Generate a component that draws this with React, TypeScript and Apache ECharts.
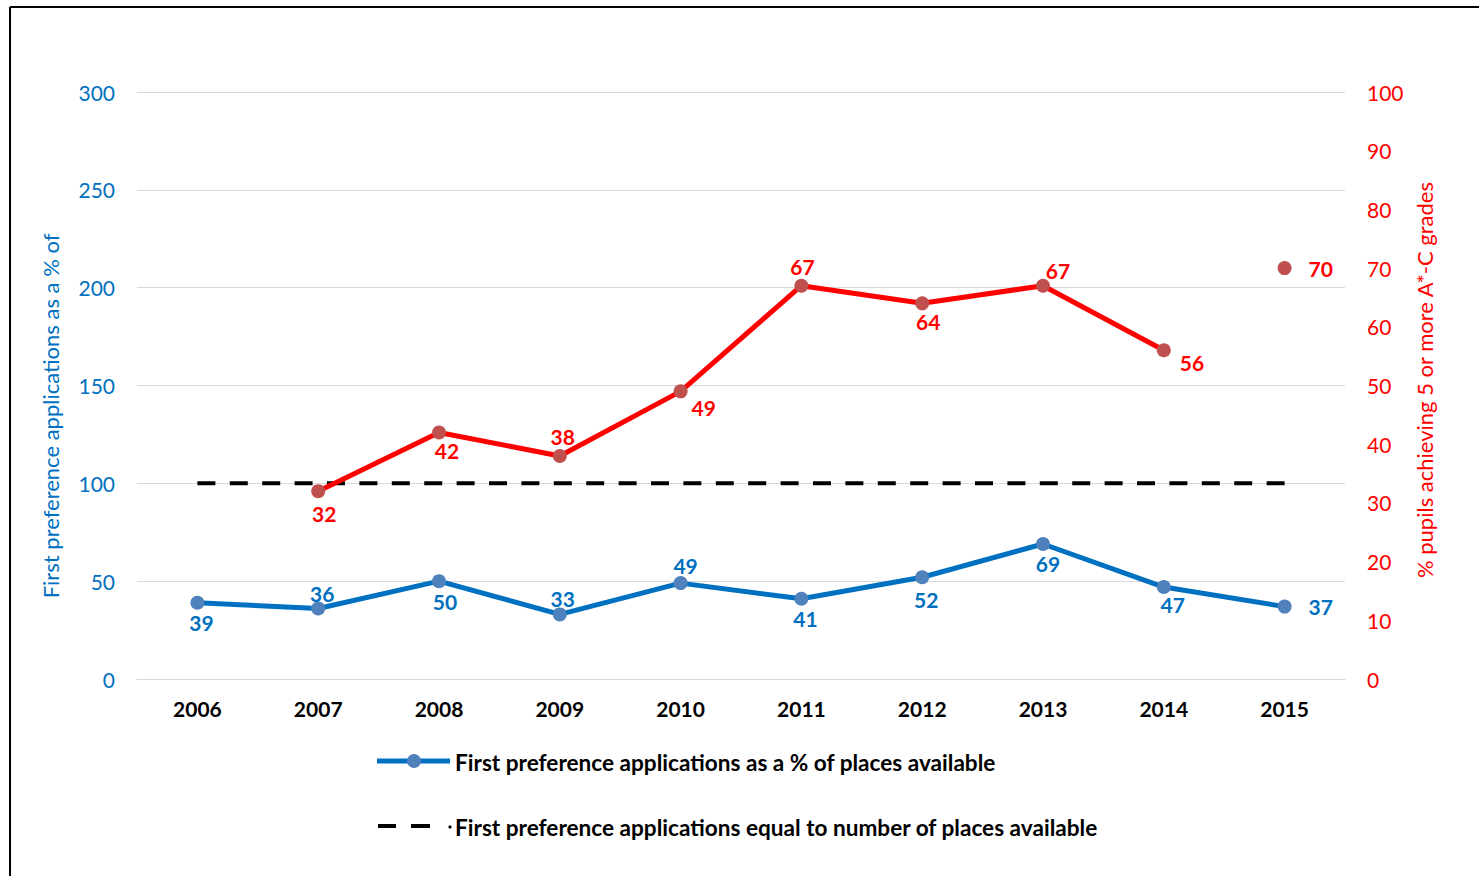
import React, { useEffect, useRef } from "react";
import * as echarts from "echarts";

const years = ["2006", "2007", "2008", "2009", "2010", "2011", "2012", "2013", "2014", "2015"];
const firstPrefPct = [39, 36, 50, 33, 49, 41, 52, 69, 47, 37];
const gcsePct = [null, 32, 42, 38, 49, 67, 64, 67, 56, null];
const gcsePct2015 = [null, null, null, null, null, null, null, null, null, 70];
const parityLine = [100, 100, 100, 100, 100, 100, 100, 100, 100, 100];

const leftTicks = { min: 0, max: 300, interval: 50 };
const rightTicks = { min: 0, max: 100, interval: 10 };

// label placement: [position, dx, dy]
const blueLabelPos: [string, number, number][] = [
  ["bottom", 4, -1], ["top", 4, 5], ["bottom", 6, 0], ["top", 3, 5], ["top", 5, 3],
  ["bottom", 4, -1], ["bottom", 4, 2], ["bottom", 5, -1], ["bottom", 9, -3], ["right", 14, 0],
];
const redLabelPos: [string, number, number][] = [
  ["bottom", 0, 0], ["bottom", 6, 2], ["bottom", 8, -2], ["top", 3, 1], ["right", 1, 16],
  ["top", 1, 1], ["bottom", 6, -2], ["top", 15, 5], ["right", 6, 12], ["right", 14, 0],
];

const FONT = "Lato, 'Open Sans', sans-serif";
const BLUE = "#0070C0";
const RED = "#FF0000";

const NAME_BLUE = "First preference applications as a % of places available";
const NAME_DASH = "First preference applications equal to number of places available";

export default function App() {
  const ref = useRef<HTMLDivElement>(null);
  useEffect(() => {
    if (!ref.current) return;
    const chart = echarts.init(ref.current, null, { renderer: "svg" });
    const mk = (vals: (number | null)[], pos: [string, number, number][], color: string) =>
      vals.map((v, i) =>
        v === null
          ? null
          : {
              value: v,
              label: {
                show: true,
                position: pos[i][0],
                offset: [pos[i][1], pos[i][2]],
                distance: 3,
                color,
                fontWeight: "bold",
                fontSize: 21,
                fontFamily: FONT,
              },
            }
      );
    chart.setOption({
      animation: false,
      textStyle: { fontFamily: FONT },
      grid: { left: 137, right: 134, top: 92, bottom: 197, containLabel: false },
      xAxis: {
        type: "category",
        data: years,
        boundaryGap: true,
        axisLine: { lineStyle: { color: "#D9D9D9", width: 1 } },
        axisTick: { show: false },
        axisLabel: { color: "#000", fontWeight: "bold", fontSize: 21, fontFamily: FONT, margin: 19 },
      },
      yAxis: [
        {
          type: "value",
          ...leftTicks,
          axisLine: { show: false },
          axisTick: { show: false },
          splitLine: { lineStyle: { color: "#D9D9D9", width: 1 } },
          axisLabel: { color: BLUE, fontSize: 21, fontFamily: FONT, margin: 22 },
        },
        {
          type: "value",
          ...rightTicks,
          position: "right",
          axisLine: { show: false },
          axisTick: { show: false },
          splitLine: { show: false },
          axisLabel: { color: RED, fontSize: 21, fontFamily: FONT, margin: 22 },
        },
      ],
      series: [
        {
          name: NAME_DASH,
          type: "line",
          data: parityLine,
          yAxisIndex: 0,
          symbol: "none",
          lineStyle: { color: "#000", width: 4, type: [18, 14.4] },
          itemStyle: { color: "#000" },
          z: 2,
        },
        {
          name: "GCSE",
          type: "line",
          data: mk(gcsePct, redLabelPos, RED),
          yAxisIndex: 1,
          symbol: "circle",
          symbolSize: 14,
          showSymbol: true,
          lineStyle: { color: RED, width: 5 },
          itemStyle: { color: "#C0504D" },
          z: 3,
        },
        {
          name: "GCSE 2015",
          type: "line",
          data: mk(gcsePct2015, redLabelPos, RED),
          yAxisIndex: 1,
          symbol: "circle",
          symbolSize: 14,
          lineStyle: { color: RED, width: 5 },
          itemStyle: { color: "#C0504D" },
          z: 3,
        },
        {
          name: NAME_BLUE,
          type: "line",
          data: mk(firstPrefPct, blueLabelPos, BLUE),
          yAxisIndex: 0,
          symbol: "circle",
          symbolSize: 14,
          lineStyle: { color: BLUE, width: 5 },
          itemStyle: { color: "#4F81BD" },
          z: 4,
        },
      ],
      graphic: [
        { type: "line", shape: { x1: 10, y1: 7, x2: 1479, y2: 7 }, style: { stroke: "#000", lineWidth: 2 } },
        { type: "line", shape: { x1: 10, y1: 7, x2: 10, y2: 876 }, style: { stroke: "#000", lineWidth: 2 } },
        {
          type: "text",
          x: 50,
          y: 416,
          rotation: Math.PI / 2,
          style: {
            text: "First preference applications as a % of",
            fill: BLUE,
            font: `22px ${FONT}`,
            align: "center",
            verticalAlign: "middle",
          },
        },
        {
          type: "text",
          x: 1424,
          y: 380,
          rotation: Math.PI / 2,
          style: {
            text: "% pupils achieving 5 or more A*-C grades",
            fill: RED,
            font: `22px ${FONT}`,
            align: "center",
            verticalAlign: "middle",
          },
        },
        // legend
        { type: "line", shape: { x1: 377, y1: 761, x2: 450, y2: 761 }, style: { stroke: BLUE, lineWidth: 5 } },
        { type: "circle", shape: { cx: 414, cy: 761, r: 7 }, style: { fill: "#4F81BD" } },
        {
          type: "text",
          x: 455,
          y: 762,
          style: { text: NAME_BLUE, fill: "#000", font: `bold 22.6px ${FONT}`, align: "left", verticalAlign: "middle" },
        },
        { type: "line", shape: { x1: 378, y1: 826, x2: 396, y2: 826 }, style: { stroke: "#000", lineWidth: 4 } },
        { type: "line", shape: { x1: 411, y1: 826, x2: 430, y2: 826 }, style: { stroke: "#000", lineWidth: 4 } },
        { type: "circle", shape: { cx: 450, cy: 827, r: 1.6 }, style: { fill: "#000" } },
        {
          type: "text",
          x: 455,
          y: 827,
          style: { text: NAME_DASH, fill: "#000", font: `bold 22.6px ${FONT}`, align: "left", verticalAlign: "middle" },
        },
      ],
    });
    return () => chart.dispose();
  }, []);
  return (
    <div
      ref={ref}
      style={{ position: "absolute", left: 0, top: 0, width: 1479, height: 876, background: "#fff" }}
    />
  );
}
